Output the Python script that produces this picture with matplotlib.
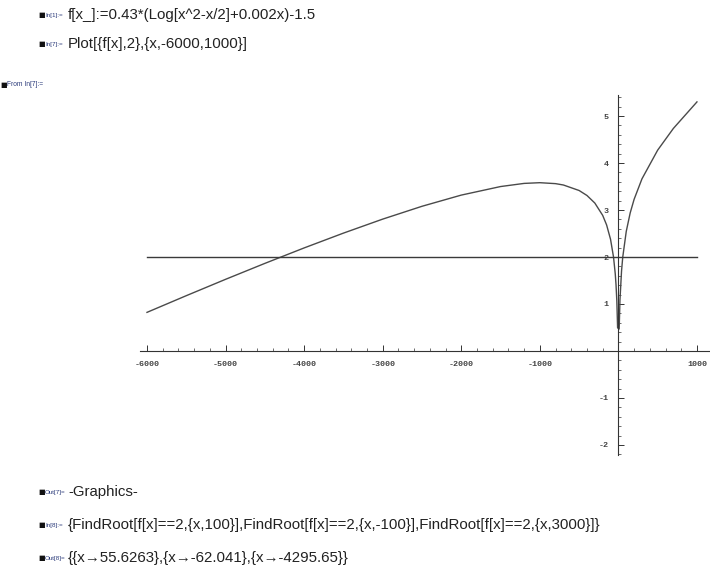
import matplotlib
matplotlib.use('Agg')
import matplotlib.pyplot as plt
from matplotlib.ticker import MultipleLocator, FixedLocator

x_vals = [-6000, -5500, -5000, -4500, -4000, -3500, -3000, -2500, -2000, -1500,
          -1200, -1000, -800, -700, -500, -400, -300, -200, -150, -100,
          -62, -40, -30, -20, -10,
          10, 20, 40, 55.6, 100, 150, 200, 300, 500, 700, 1000]
y_vals = [0.822, 1.177, 1.525, 1.864, 2.193, 2.508, 2.806, 3.079, 3.317, 3.499,
          3.566, 3.581, 3.561, 3.532, 3.415, 3.309, 3.148, 2.886, 2.682, 2.377,
          1.999, 1.643, 1.406, 1.070, 0.493,
          0.467, 1.083, 1.701, 2.000, 2.544, 2.937, 3.227, 3.663, 4.274, 4.736, 5.300]
const_level = 2
x_range = [-6000, 1000]

x_ticks = [-6000, -5000, -4000, -3000, -2000, -1000, 1000]
y_ticks = [-2, -1, 1, 2, 3, 4, 5]

notebook_lines = [
    ("In[1]:=", "f[x_]:=0.43*(Log[x^2-x/2]+0.002x)-1.5"),
    ("In[7]:=", "Plot[{f[x],2},{x,-6000,1000}]"),
    ("Out[7]=", "-Graphics-"),
    ("In[8]:=", "{FindRoot[f[x]==2,{x,100}],FindRoot[f[x]==2,{x,-100}],FindRoot[f[x]==2,{x,3000}]}"),
    ("Out[8]=", "{{x\u219255.6263},{x\u2192-62.041},{x\u2192-4295.65}}"),
]
line_y = [15, 44, 492, 525, 558]

plt.rcParams['axes.unicode_minus'] = False
W, H = 710, 576
fig = plt.figure(figsize=(W / 100, H / 100), dpi=100)

# notebook text around the graphic
for (label, code), py in zip(notebook_lines, line_y):
    fy = 1 - py / H
    fig.text(38 / W, fy, "\u25a0", fontsize=5, color='#111111', va='center', ha='left',
             family='DejaVu Sans')
    fig.text(45 / W, fy - 0.001, label, fontsize=4.5, color='#2a3a7a', va='center', ha='left',
             family='Liberation Sans')
    fig.text(68 / W, fy, code, fontsize=10.8, color='#222222', va='center', ha='left',
             family=['Liberation Sans', 'DejaVu Sans'])
fig.text(0 / W, 1 - 85 / H, "\u25a0", fontsize=5, color='#111111', va='center', ha='left',
         family='DejaVu Sans')
fig.text(7 / W, 1 - 85 / H, "From In[7]:=", fontsize=4.8, color='#2a3a7a', va='center',
         ha='left', family='Liberation Sans')

# the graphic
ax = fig.add_axes([140 / W, (H - 455) / H, 570 / W, 360 / H])
ax.plot(x_vals, y_vals, color='#4a4a4a', lw=1.0)
ax.plot(x_range, [const_level, const_level], color='#3a3a3a', lw=1.0)
ax.set_xlim(-6089, 1166)
ax.set_ylim(-2.213, 5.447)

for s in ['top', 'right']:
    ax.spines[s].set_visible(False)
ax.spines['left'].set_position(('data', 0))
ax.spines['bottom'].set_position(('data', 0))
ax.spines['left'].set_color('#333333')
ax.spines['bottom'].set_color('#333333')
ax.spines['left'].set_linewidth(0.8)
ax.spines['bottom'].set_linewidth(0.8)

ax.xaxis.set_major_locator(FixedLocator(x_ticks))
ax.xaxis.set_minor_locator(MultipleLocator(200))
ax.yaxis.set_major_locator(FixedLocator(y_ticks))
ax.yaxis.set_minor_locator(MultipleLocator(0.2))
ax.set_xticklabels([str(v) for v in x_ticks])
ax.set_yticklabels([str(v) for v in y_ticks])

ax.tick_params(which='major', direction='in', length=4, width=0.7, color='#333333',
               labelsize=6, labelcolor='#444444', pad=7)
ax.tick_params(which='minor', direction='in', length=2, width=0.5, color='#333333')
for lab in ax.get_xticklabels() + ax.get_yticklabels():
    lab.set_family('Liberation Mono')
    lab.set_fontweight('bold')

fig.savefig('out.png', dpi=100)
